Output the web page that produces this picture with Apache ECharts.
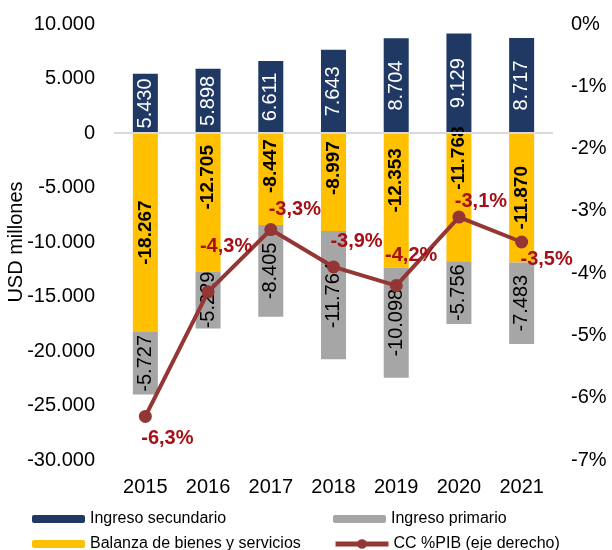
<!DOCTYPE html>
<html>
<head>
<meta charset="utf-8">
<script src="https://cdn.jsdelivr.net/npm/echarts@6/dist/echarts.min.js"></script>
<style>
    html, body {margin: 0; padding: 0; background: #fff;}
    #main {width: 612px; height: 550px;}
</style>
</head>
<body>
<div id="main"></div>
<script>
let years = ['2015', '2016', '2017', '2018', '2019', '2020', '2021'];
let ingresoSecundario = [5430, 5898, 6611, 7643, 8704, 9129, 8717];
let balanza = [-18267, -12705, -8447, -8997, -12353, -11768, -11870];
let ingresoPrimario = [-5727, -5229, -8405, -11764, -10098, -5756, -7483];
let ccPib = [-6.3, -4.3, -3.3, -3.9, -4.2, -3.1, -3.5];

// desplazamiento de etiquetas (px) para que no se tapen con la linea
let balanzaShift = [0, 25, 13, 14, 20, 39, 0];
let ccOffsets = [[22, 22], [18, -45], [24, -20], [23, -25], [15, -30], [22, -16], [25, 17]];

let FONT = 'Liberation Sans';

function miles(v) {
    let s = Math.abs(v).toString().replace(/\B(?=(\d{3})+(?!\d))/g, '.');
    return (v < 0 ? '-' : '') + s;
}

function pct(v) {
    return v.toFixed(1).replace('.', ',') + '%';
}

function leyenda(name, left, top, alto) {
    return {
        left: left, top: top, padding: 0,
        itemWidth: 53, itemHeight: alto || 8,
        lineStyle: {width: 5},
        textStyle: {fontFamily: FONT, fontSize: 16, color: '#000'},
        data: [name]
    };
}

let myChart = echarts.init(document.getElementById('main'));

let option = {
    animation: false,
    textStyle: {fontFamily: FONT},
    grid: {left: 114, right: 59, top: 24, bottom: 90, outerBoundsMode: 'none', containLabel: false},
    legend: [
        leyenda('Ingreso secundario', 32, 511),
        leyenda('Balanza de bienes y servicios', 32, 536),
        leyenda('Ingreso primario', 333, 511),
        leyenda('CC %PIB (eje derecho)', 333, 536, 12)
    ],
    xAxis: {
        type: 'category',
        data: years,
        axisLine: {show: false, onZero: false},
        axisTick: {show: false},
        axisLabel: {fontFamily: FONT, fontSize: 20, color: '#000', margin: 17}
    },
    yAxis: [{
        type: 'value',
        min: -30000, max: 10000, interval: 5000,
        name: 'USD millones',
        nameLocation: 'middle',
        nameGap: 88,
        nameMoveOverlap: false,
        nameTextStyle: {fontFamily: FONT, fontSize: 20, color: '#000'},
        splitLine: {show: false},
        axisLine: {show: false},
        axisTick: {show: false},
        axisLabel: {fontFamily: FONT, fontSize: 20, color: '#000', margin: 19, formatter: miles}
    }, {
        type: 'value',
        min: -7, max: 0, interval: 1,
        position: 'right',
        splitLine: {show: false},
        axisLine: {show: false},
        axisTick: {show: false},
        axisLabel: {fontFamily: FONT, fontSize: 20, color: '#000', margin: 18,
            formatter: function (v) { return v + '%'; }}
    }],
    series: [{
        name: 'Ingreso secundario',
        type: 'bar',
        stack: 'cc',
        barWidth: 25,
        itemStyle: {color: '#203864'},
        label: {
            show: true, position: 'inside', rotate: 90,
            fontFamily: FONT, fontSize: 20, color: '#fff',
            formatter: function (p) { return miles(p.value); }
        },
        data: ingresoSecundario,
        markLine: {
            silent: true, symbol: 'none', label: {show: false},
            lineStyle: {color: '#d9d9d9', type: 'solid', width: 2},
            data: [{yAxis: 0}]
        }
    }, {
        name: 'Balanza de bienes y servicios',
        type: 'bar',
        stack: 'cc',
        barWidth: 25,
        itemStyle: {color: '#FFC000'},
        label: {
            show: true, position: 'inside', rotate: 90,
            fontFamily: FONT, fontSize: 19, fontWeight: 'bold', color: '#000',
            formatter: function (p) { return miles(p.value); }
        },
        data: balanza.map(function (v, i) {
            return {value: v, label: {offset: [balanzaShift[i], 0]}};
        })
    }, {
        name: 'Ingreso primario',
        type: 'bar',
        stack: 'cc',
        barWidth: 25,
        itemStyle: {color: '#A6A6A6'},
        label: {
            show: true, position: 'inside', rotate: 90,
            fontFamily: FONT, fontSize: 20, color: '#000',
            formatter: function (p) { return miles(p.value); }
        },
        data: ingresoPrimario
    }, {
        name: 'CC %PIB (eje derecho)',
        type: 'line',
        yAxisIndex: 1,
        z: 5,
        symbol: 'circle',
        symbolSize: 13,
        lineStyle: {color: '#943634', width: 4},
        itemStyle: {color: '#943634'},
        label: {
            show: true, position: 'inside',
            fontFamily: FONT, fontSize: 20, fontWeight: 'bold', color: '#A50F15',
            formatter: function (p) { return pct(p.value); }
        },
        data: ccPib.map(function (v, i) {
            return {value: v, label: {offset: ccOffsets[i]}};
        })
    }]
};

myChart.setOption(option);
</script>
</body>
</html>
